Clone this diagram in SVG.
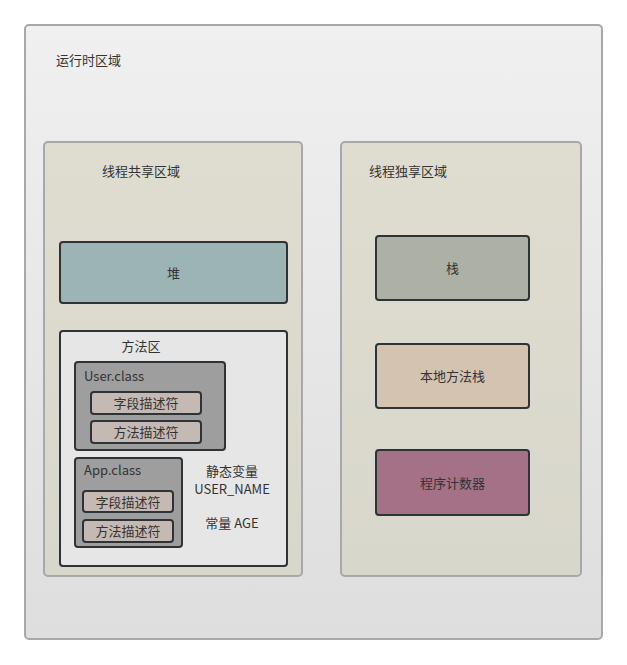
<svg xmlns="http://www.w3.org/2000/svg" width="627" height="665" viewBox="0 0 627 665">
<defs>
<linearGradient id="bg" x1="0" y1="0" x2="0" y2="1">
<stop offset="0" stop-color="#f0f0f0"/>
<stop offset="1" stop-color="#dedede"/>
</linearGradient>
<linearGradient id="panel" x1="0" y1="0" x2="0" y2="1">
<stop offset="0" stop-color="#dfddd0"/>
<stop offset="1" stop-color="#d8d7cb"/>
</linearGradient>
<style>
text{font-family:"Microsoft YaHei","Noto Sans CJK SC","Liberation Sans",sans-serif;font-size:13px;fill:#333;}
.c{text-anchor:middle;dominant-baseline:central;}
.frame{stroke:#a8a8a8;stroke-width:2;}
.box{stroke:#2e3338;stroke-width:2;}
.cls{fill:#9e9e9e;stroke:#2e3338;stroke-width:2;}
.fld{fill:#c5b9b4;stroke:#2e3338;stroke-width:2;}
</style>
</defs>
<rect width="627" height="665" fill="#ffffff"/>
<g id="runtime">
<rect x="25" y="25" width="577" height="614" rx="4" fill="url(#bg)" class="frame"/>
<text x="56" y="65">运行时区域</text>
</g>
<g id="shared">
<rect x="44" y="142" width="258" height="434" rx="4" fill="url(#panel)" class="frame"/>
<text x="102" y="176">线程共享区域</text>
</g>
<g id="private">
<rect x="341" y="142" width="240" height="434" rx="4" fill="url(#panel)" class="frame"/>
<text x="369" y="176">线程独享区域</text>
</g>
<g id="heap">
<rect x="60" y="242" width="227" height="61" rx="3" fill="#9db4b4" class="box"/>
<text x="173.5" y="272" class="c">堆</text>
</g>
<g id="methodArea">
<rect x="60" y="331" width="227" height="235" rx="3" fill="#e6e6e6" class="box"/>
<text x="141" y="345.5" class="c">方法区</text>
<text x="232" y="470" class="c">静态变量</text>
<text x="232" y="488.5" class="c">USER_NAME</text>
<text x="232" y="522" class="c">常量 AGE</text>
</g>
<g id="userClass">
<rect x="75" y="362" width="150" height="88" rx="3" class="cls"/>
<text x="84" y="381">User.class</text>
<rect x="91" y="392" width="110" height="22" rx="3" class="fld"/>
<text x="146" y="402.5" class="c">字段描述符</text>
<rect x="91" y="421" width="110" height="22" rx="3" class="fld"/>
<text x="146" y="431.5" class="c">方法描述符</text>
</g>
<g id="appClass">
<rect x="75" y="458" width="107" height="89" rx="3" class="cls"/>
<text x="84" y="475">App.class</text>
<rect x="83" y="491" width="90" height="21" rx="3" class="fld"/>
<text x="128" y="501" class="c">字段描述符</text>
<rect x="83" y="520" width="90" height="22" rx="3" class="fld"/>
<text x="128" y="530.5" class="c">方法描述符</text>
</g>
<g id="stack">
<rect x="376" y="236" width="153" height="64" rx="3" fill="#adb1a5" class="box"/>
<text x="452.5" y="267.5" class="c">栈</text>
</g>
<g id="nativeStack">
<rect x="376" y="344" width="153" height="64" rx="3" fill="#d3c3b0" class="box"/>
<text x="452.5" y="375.5" class="c">本地方法栈</text>
</g>
<g id="pc">
<rect x="376" y="450" width="153" height="65" rx="3" fill="#a47186" class="box"/>
<text x="452.5" y="482" class="c">程序计数器</text>
</g>
<g id="connectors"></g>
</svg>
